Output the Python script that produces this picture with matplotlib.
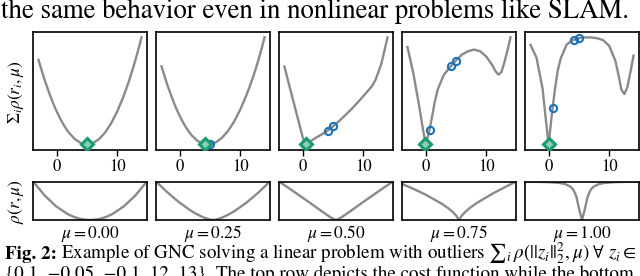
import matplotlib.pyplot as plt

plt.rcParams['font.family'] = 'STIXGeneral'
plt.rcParams['mathtext.fontset'] = 'stix'

# shared x grid of the cost curves (top row)
xs = [-3, -2, -1, -0.5, 0, 0.5, 1, 1.5, 2, 3, 4, 5, 6, 7, 8, 9, 10, 11, 11.5, 12, 12.5, 13, 13.5, 14]

cost_mu000 = [79.0, 60.5, 44.4, 37.3, 30.9, 25.0, 19.8, 15.1, 11.1, 4.9, 1.2, 0.0, 1.2, 4.9, 11.1, 19.8,
              30.9, 44.4, 52.2, 60.5, 69.4, 79.0, 89.2, 100.0]
cost_mu025 = [73.0, 55.1, 39.7, 32.9, 26.8, 21.3, 16.4, 12.2, 8.5, 3.2, 0.5, 0.2, 2.2, 6.4, 12.9, 21.7,
              32.7, 45.9, 53.3, 61.3, 69.9, 79.0, 89.2, 100.0]
cost_mu050 = [72.0, 50.0, 28.5, 17.5, 6.5, 0.0, 1.8, 3.6, 5.5, 8.8, 12.0, 16.6, 21.5, 26.8, 32.3, 38.3,
              44.6, 51.0, 54.5, 59.5, 67.0, 75.0, 87.0, 99.0]
cost_mu075 = [91.0, 65.5, 33.5, 16.0, 0.0, 10.0, 24.0, 39.7, 51.5, 65.0, 72.0, 78.3, 84.0, 87.0, 88.6, 87.0,
              82.0, 74.0, 68.5, 65.2, 67.5, 77.0, 88.0, 100.0]
cost_mu100 = [93.0, 81.0, 52.0, 25.0, 0.0, 26.5, 50.0, 69.0, 80.5, 93.5, 97.5, 99.3, 100.0, 99.9, 99.2, 97.3,
              92.0, 78.0, 65.4, 51.0, 47.0, 54.0, 68.0, 83.0]
costs = [cost_mu000, cost_mu025, cost_mu050, cost_mu075, cost_mu100]

# GNC iterates: previous solutions (circles) and current solution (diamond)
prev_x = [[], [5.05], [4.2, 5.0], [0.65, 4.2, 5.0], [0.65, 4.15, 5.0]]
prev_y = [[], [0.3], [12.3, 16.6], [13.0, 73.1, 78.3], [34.0, 97.8, 99.3]]
sol_x = [5.0, 4.25, 0.55, -0.05, 0.0]
sol_y = [0.0, 0.4, 0.1, 0.0, 0.0]

# robust function rho(r, mu) (bottom row)
rs = [-1, -0.8, -0.6, -0.4, -0.3, -0.2, -0.15, -0.1, -0.05, 0, 0.05, 0.1, 0.15, 0.2, 0.3, 0.4, 0.6, 0.8, 1]
rho_mu000 = [100, 64, 36, 16, 9, 4, 2.25, 1, 0.25, 0, 0.25, 1, 2.25, 4, 9, 16, 36, 64, 100]
rho_mu025 = [100, 71.6, 46.5, 25.3, 16.4, 8.9, 5.8, 3.2, 1.1, 0, 1.1, 3.2, 5.8, 8.9, 16.4, 25.3, 46.5, 71.6, 100]
rho_mu050 = [100, 80, 59.5, 38.5, 28, 17.5, 12.5, 7.5, 3, 0, 3, 7.5, 12.5, 17.5, 28, 38.5, 59.5, 80, 100]
rho_mu075 = [94, 81, 67, 50.5, 42, 32, 26, 19.5, 11.5, 0, 11.5, 19.5, 26.5, 32.5, 43, 52, 69.5, 85, 100]
rho_mu100 = [99.4, 99.0, 98.3, 96.2, 93.4, 86.2, 77.8, 61.0, 28.0, 0, 28.0, 61.0, 77.8, 86.2, 93.4, 96.2,
             98.3, 99.0, 99.4]
rhos = [rho_mu000, rho_mu025, rho_mu050, rho_mu075, rho_mu100]

mus = ['0.00', '0.25', '0.50', '0.75', '1.00']

W, H = 640, 276
fig = plt.figure(figsize=(W / 100, H / 100), dpi=100)

gray = '#8a8a8a'
green = '#1b9a74'
blue = '#1f72b8'

lefts = [33.3, 156.3, 279.3, 402.3, 525.3]
pw = 113.4
for k in range(5):
  ax = fig.add_axes([lefts[k] / W, 1 - 149.7 / H, pw / W, 117.7 / H])
  ax.plot(xs, costs[k], color=gray, lw=1.7, zorder=1)
  ax.plot(prev_x[k], prev_y[k], 'o', ms=5.2, mfc='none', mec=blue, mew=1.5, zorder=3)
  ax.plot(sol_x[k], sol_y[k], 'D', ms=6, mfc='#8ccfb8', mec=green, mew=2.2, zorder=4)
  ax.set_xticks([0, 10])
  ax.set_yticks([])
  ax.tick_params(axis='x', length=4, width=1, pad=3, labelsize=12)
  for s in ax.spines.values():
    s.set_linewidth(1.2)

  bx = fig.add_axes([lefts[k] / W, 1 - 220 / H, pw / W, 38.3 / H])
  bx.plot(rs, rhos[k], color=gray, lw=1.7)
  bx.margins(0, 0)
  bx.set_xticks([])
  bx.set_yticks([])
  for s in bx.spines.values():
    s.set_linewidth(1.2)
  fig.text((lefts[k] + pw / 2) / W, 1 - 238.3 / H, r'$\mu=$' + '$' + mus[k] + '$',
           ha='center', va='baseline', fontsize=12.5)

fig.text(16 / W, 1 - 92 / H, r'$\Sigma_i\rho(r_i,\mu)$', rotation=90, ha='center', va='center', fontsize=12.5)
fig.text(16 / W, 1 - 201 / H, r'$\rho(r,\mu)$', rotation=90, ha='center', va='center', fontsize=12.5)

# surrounding paper text
fig.text(1 / W, 1 - 18.5 / H, 'the same behavior even in nonlinear problems like SLAM.', fontsize=19.3,
         va='baseline', ha='left')
t1 = fig.text(5 / W, 1 - 258.8 / H, 'Fig. 2:', fontsize=13.7, fontweight='bold', va='baseline', ha='left')
fig.canvas.draw()
bb = t1.get_window_extent()
fig.text(bb.x1 / W + 4 / W, 1 - 258.8 / H,
         r'Example of GNC solving a linear problem with outliers $∑_i\,\rho(||z_i||_2^2,\mu)\ \forall\ z_i\in$',
         fontsize=13.7, va='baseline', ha='left')
fig.text(5 / W, 1 - 279 / H, '{0.1, −0.05, −0.1, 12, 13}. The top row depicts the cost function while the bottom',
         fontsize=13.7, va='baseline', ha='left')

fig.savefig('out.png', dpi=100)
